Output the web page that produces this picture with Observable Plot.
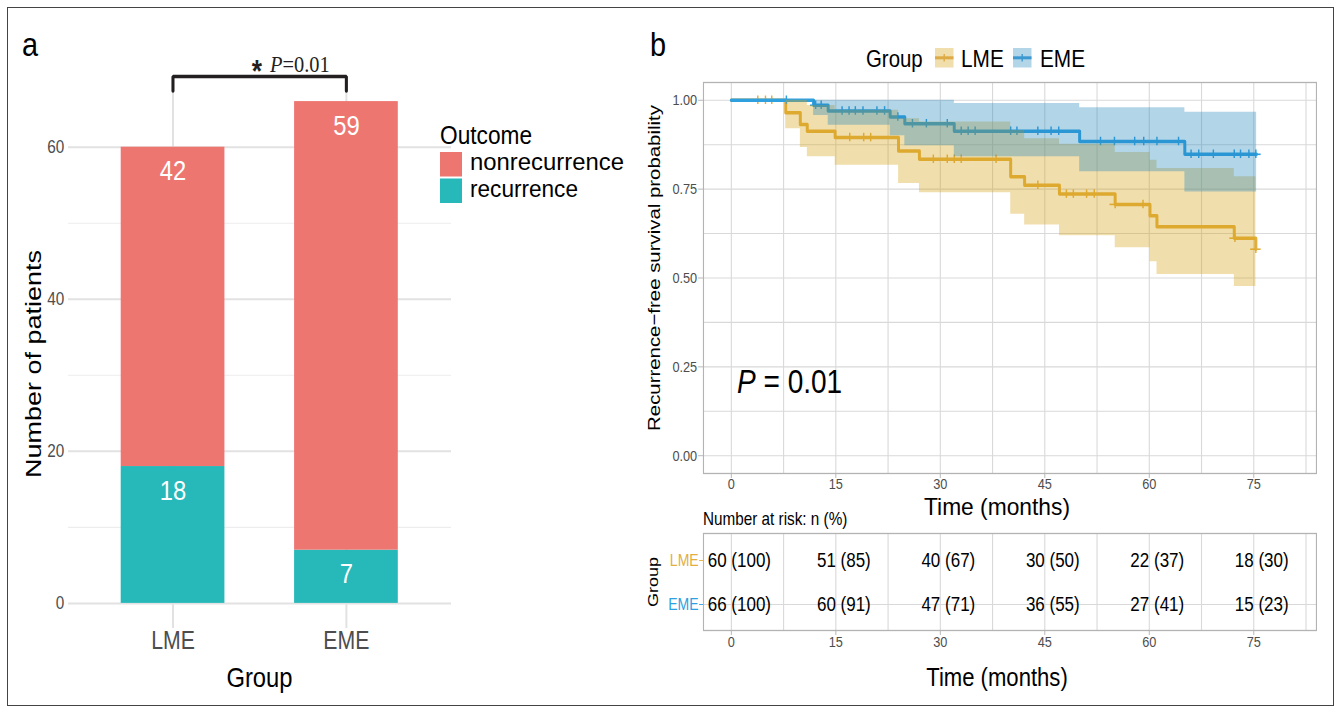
<!DOCTYPE html>
<html><head><meta charset="utf-8">
<script src="https://cdn.jsdelivr.net/npm/d3@7"></script>
<script src="https://cdn.jsdelivr.net/npm/@observablehq/plot@0.6"></script>
<style>
html,body{margin:0;padding:0;background:#fff;overflow:hidden;width:1340px;height:711px}
#wrap{position:absolute;left:0;top:0;height:711px;transform-origin:0 0;}
#wrap > *{position:absolute;}
#frame{position:absolute;left:7px;top:7px;width:1325px;height:697px;border:1px solid #444;}
</style></head><body>
<div id="frame"></div>
<div id="wrap"></div>
<script>
// ---------------- DATA ----------------
// Panel a: stacked bars
const groups = ["LME", "EME"];
const outcomes = ["nonrecurrence", "recurrence"];
const recurrenceN = [18, 7];
const nonrecurrenceN = [42, 59];
const barTicks = [0, 20, 40, 60];
const barMinorTicks = [10, 30, 50];
const bracketLevels = [67.4, 69.3];

// Panel b: Kaplan-Meier
const lmeTime  = [0, 7.8, 9.9, 10.9, 14.9, 24.0, 27.0, 40.1, 42.1, 47.1, 55.1, 60.1, 61.1, 72.2, 75.3];
const lmeSurv  = [1, 0.965, 0.932, 0.913, 0.895, 0.857, 0.834, 0.785, 0.761, 0.736, 0.707, 0.675, 0.644, 0.612, 0.581];
const lmeLower = [1, 0.920, 0.867, 0.841, 0.817, 0.766, 0.740, 0.679, 0.649, 0.619, 0.585, 0.546, 0.510, 0.476, 0.476];
const lmeUpper = [1, 1.000, 1.000, 0.985, 0.972, 0.948, 0.939, 0.915, 0.892, 0.876, 0.853, 0.831, 0.808, 0.785, 0.785];
const lmeCensor = [3.8, 4.9, 5.8, 17.0, 19.0, 20.0, 29.0, 31.0, 32.0, 33.0, 38.0, 44.0, 48.1, 49.1, 51.0, 52.1, 55.1, 59.1, 72.3, 75.3];

const emeTime  = [0, 11.8, 13.9, 22.8, 24.9, 32.0, 50.0, 65.1, 75.4];
const emeSurv  = [1, 0.986, 0.970, 0.953, 0.934, 0.913, 0.884, 0.848, 0.848];
const emeLower = [1, 0.957, 0.930, 0.900, 0.872, 0.841, 0.799, 0.742, 0.742];
const emeUpper = [1, 1.000, 1.000, 1.000, 1.000, 0.991, 0.979, 0.966, 0.966];
const emeCensor = [7.9, 12.1, 12.9, 15.9, 16.9, 17.8, 18.9, 20.9, 22.0, 23.9, 26.0, 28.0, 31.0, 33.0, 34.0, 35.0, 40.1, 41.0, 44.0, 45.9, 47.0, 53.0, 55.0, 57.9, 59.2, 61.1, 64.2, 66.0, 67.1, 69.2, 72.2, 73.1, 74.3, 75.3];

const kmXTicks = [0, 15, 30, 45, 60, 75];
const kmXGrid = [0, 7.5, 15, 22.5, 30, 37.5, 45, 52.5, 60, 67.5, 75, 82.5];
const kmYTicks = [0, 0.25, 0.5, 0.75, 1];
const kmYGrid = [0, 0.125, 0.25, 0.375, 0.5, 0.625, 0.75, 0.875, 1];

// Risk table
const riskTimes = [0, 15, 30, 45, 60, 75];
const lmeRiskN = [60, 51, 40, 30, 22, 18];
const lmeRiskPct = [100, 85, 67, 50, 37, 30];
const emeRiskN = [66, 60, 47, 36, 27, 15];
const emeRiskPct = [100, 91, 71, 55, 41, 23];

// ---------------- STYLE ----------------
const S = 0.85;               // horizontal compression of the original figure
const VW = 1340 / S;
const vx = a => a / S;
const SANS = "'Liberation Sans', Arial, Helvetica, sans-serif";
const SERIF = "'Liberation Serif', 'Times New Roman', serif";
const RED = "#EE7671", TEAL = "#27B8B9";
const GOLD = "#E3AE40", BLUE = "#2E9FDF";
const GOLD_BAND = "#D4A112", BLUE_BAND = "#2387BD";
const GRID = "#D9D9D9", BORDER = "#B3B3B3", TICKTXT = "#4D4D4D";
const CENSOR_DX = 0.75, CENSOR_DY = 0.012;   // half-size of the "+" censor marks

const wrap = document.getElementById("wrap");
wrap.style.width = VW + "px";
wrap.style.transform = `scaleX(${S})`;
const baseStyle = {background: "transparent", overflow: "visible", fontFamily: SANS};

function place(el, leftA, top) {
  el.style.position = "absolute";
  el.style.left = vx(leftA) + "px";
  el.style.top = top + "px";
  wrap.appendChild(el);
}

// ---------------- PANEL A ----------------
const barRows = [];
groups.forEach((g, i) => barRows.push({group: g, outcome: "recurrence", n: recurrenceN[i]}));
groups.forEach((g, i) => barRows.push({group: g, outcome: "nonrecurrence", n: nonrecurrenceN[i]}));
const bracket = [
  {g: groups[0], v: bracketLevels[0]}, {g: groups[0], v: bracketLevels[1]},
  {g: groups[1], v: bracketLevels[1]}, {g: groups[1], v: bracketLevels[0]}
];

const plotA = Plot.plot({
  width: vx(640), height: 711,
  marginLeft: vx(68), marginRight: vx(640 - 451), marginTop: 76, marginBottom: 711 - 628,
  style: baseStyle,
  x: {type: "band", domain: groups, paddingInner: 0.4, paddingOuter: 0.3},
  y: {domain: [-3.3, 69.3]},
  color: {domain: outcomes, range: [RED, TEAL]},
  marks: [
    Plot.gridY(barMinorTicks, {stroke: "#EDEDED", strokeOpacity: 1, strokeWidth: 1.1}),
    Plot.gridY(barTicks, {stroke: "#E2E2E2", strokeOpacity: 1, strokeWidth: 2}),
    Plot.gridX(groups, {stroke: "#E2E2E2", strokeOpacity: 1, strokeWidth: 2 / S}),
    Plot.barY(barRows, {x: "group", y: "n", fill: "outcome"}),
    Plot.text(barRows, Plot.stackY2({x: "group", y: "n", text: d => String(d.n), fill: "white", fontSize: 28, dy: 24})),
    Plot.line(bracket, {x: "g", y: "v", stroke: "#231F20", strokeWidth: 3.6, strokeLinejoin: "miter"}),
    Plot.axisY(barTicks, {tickSize: 0, tickPadding: 5, fontSize: 18, fill: TICKTXT, label: null}),
    Plot.axisX(groups, {tickSize: 0, tickPadding: 3, fontSize: 25, fill: TICKTXT, label: null})
  ]
});
place(plotA, 0, 0);

// ---------------- PANEL B: KM ----------------
const lmeCurve = lmeTime.map((t, i) => ({t, s: lmeSurv[i]}));
const emeCurve = emeTime.map((t, i) => ({t, s: emeSurv[i]}));
const lmeBand = lmeTime.map((t, i) => ({t, lo: lmeLower[i], hi: lmeUpper[i]}));
const emeBand = emeTime.map((t, i) => ({t, lo: emeLower[i], hi: emeUpper[i]}));
function survAt(times, surv, t) { let k = 0; times.forEach((tt, i) => { if (tt <= t) k = i; }); return surv[k]; }
const lmeMarks = lmeCensor.map(t => ({t, s: survAt(lmeTime, lmeSurv, t)}));
const emeMarks = emeCensor.map(t => ({t, s: survAt(emeTime, emeSurv, t)}));
function censorMarks(data, color) {
  return [
    Plot.ruleY(data, {y: "s", x1: d => d.t - CENSOR_DX, x2: d => d.t + CENSOR_DX, stroke: color, strokeWidth: 1.6}),
    Plot.ruleX(data, {x: "t", y1: d => d.s - CENSOR_DY, y2: d => d.s + CENSOR_DY, stroke: color, strokeWidth: 1.7})
  ];
}

const plotB = Plot.plot({
  width: vx(700), height: 460,
  marginLeft: vx(63), marginRight: vx(24), marginTop: 12, marginBottom: 57,
  style: baseStyle,
  x: {domain: [-4, 84]},
  y: {domain: [-0.05, 1.05]},
  marks: [
    Plot.gridX(kmXGrid, {stroke: GRID, strokeOpacity: 1, strokeWidth: 1.1 / S}),
    Plot.gridY(kmYGrid, {stroke: GRID, strokeOpacity: 1, strokeWidth: 1.1}),
    Plot.line(lmeCurve, {x: "t", y: "s", curve: "step-after", stroke: GOLD, strokeWidth: 3.5}),
    censorMarks(lmeMarks, GOLD),
    Plot.line(emeCurve, {x: "t", y: "s", curve: "step-after", stroke: BLUE, strokeWidth: 3.5}),
    censorMarks(emeMarks, BLUE),
    Plot.areaY(lmeBand, {x: "t", y1: "lo", y2: "hi", curve: "step-after", fill: GOLD_BAND, fillOpacity: 0.35}),
    Plot.areaY(emeBand, {x: "t", y1: "lo", y2: "hi", curve: "step-after", fill: BLUE_BAND, fillOpacity: 0.35}),
    Plot.frame({stroke: BORDER, strokeWidth: 1.3}),
    Plot.axisY(kmYTicks, {tickFormat: d3.format(".2f"), tickSize: vx(5), tickPadding: 1.5, fontSize: 15, fill: TICKTXT, stroke: BORDER, label: null}),
    Plot.axisX(kmXTicks, {tickSize: 5, tickPadding: 0, fontSize: 15, fill: TICKTXT, stroke: BORDER, label: null})
  ]
});
place(plotB, 640, 70);

// ---------------- RISK TABLE ----------------
const riskRows = [];
riskTimes.forEach((t, i) => riskRows.push({t, group: "LME", label: `${lmeRiskN[i]} (${lmeRiskPct[i]})`}));
riskTimes.forEach((t, i) => riskRows.push({t, group: "EME", label: `${emeRiskN[i]} (${emeRiskPct[i]})`}));

const plotT = Plot.plot({
  width: vx(700), height: 181,
  marginLeft: vx(63), marginRight: vx(24), marginTop: 3, marginBottom: 81,
  style: baseStyle,
  x: {domain: [-4, 84]},
  y: {type: "point", domain: groups, padding: 0.6},
  marks: [
    Plot.gridX(kmXGrid, {stroke: GRID, strokeOpacity: 1, strokeWidth: 1.1 / S}),
    Plot.gridY(["EME"], {stroke: GRID, strokeOpacity: 1, strokeWidth: 1.1}),
    Plot.frame({stroke: BORDER, strokeWidth: 1.3}),
    Plot.text(riskRows, {x: "t", y: "group", text: "label", fontSize: 20, fill: "black", dx: vx(8)}),
    Plot.axisX(kmXTicks, {tickSize: 5, tickPadding: 1, fontSize: 15, fill: TICKTXT, stroke: BORDER, label: null}),
    Plot.axisY(["LME"], {tickSize: vx(4), tickPadding: 1, fontSize: 16.5, fill: GOLD, stroke: GOLD, label: null}),
    Plot.axisY(["EME"], {tickSize: vx(4), tickPadding: 1, fontSize: 16.5, fill: BLUE, stroke: BLUE, label: null})
  ]
});
place(plotT, 640, 530);

// ---------------- TEXT / LEGEND OVERLAY ----------------
const ov = d3.create("svg").attr("width", VW).attr("height", 711)
  .style("position", "absolute").style("left", "0px").style("top", "0px").style("overflow", "visible");
function T(str, xa, yb, size, o = {}) {
  const t = ov.append("text").attr("x", vx(xa)).attr("y", yb).attr("font-size", size)
    .attr("text-anchor", o.anchor || "start").attr("fill", o.fill || "#000")
    .attr("font-family", o.family || SANS);
  if (o.weight) t.attr("font-weight", o.weight);
  if (o.length) t.attr("textLength", vx(o.length)).attr("lengthAdjust", "spacingAndGlyphs");
  if (o.rotate) t.attr("transform", `rotate(-90, ${vx(xa)}, ${yb})`);
  if (str !== null) t.text(str);
  return t;
}
function R(xa, ya, wa, h, fill) {
  return ov.append("rect").attr("x", vx(xa)).attr("y", ya).attr("width", vx(wa)).attr("height", h).attr("fill", fill);
}

// panel a
T("a", 22, 56, 34);
T("*", 257, 82, 31, {anchor: "middle", weight: "bold", fill: "#231F20"});
const pa = T(null, 270, 72, 24, {family: SERIF, fill: "#231F20"});
pa.append("tspan").attr("font-style", "italic").text("P");
pa.append("tspan").text("=0.01");
T("Outcome", 440, 144, 25.5, {length: 92});
R(440, 152, 22, 24.5, RED);
R(440, 178.5, 22, 24.5, TEAL);
T("nonrecurrence", 470, 170.5, 23.6, {length: 154});
T("recurrence", 470, 197, 23.6, {length: 108});
T("Number of patients", 33 + 0.358 * 27 * S, 364, 27, {anchor: "middle", rotate: true});
T("Group", 259.5, 687, 28, {anchor: "middle"});

// panel b
T("b", 650, 56, 34);
T("Group", 866, 66.6, 24);
R(935, 48, 18.5, 19.5, "#F0DEAC");
ov.append("line").attr("x1", vx(935)).attr("x2", vx(953.5)).attr("y1", 57.8).attr("y2", 57.8).attr("stroke", "#DDAA45").attr("stroke-width", 3);
ov.append("line").attr("x1", vx(944.2)).attr("x2", vx(944.2)).attr("y1", 54).attr("y2", 61.5).attr("stroke", "#DDAA45").attr("stroke-width", 1.6);
T("LME", 961, 66.6, 24.5);
R(1013, 48, 18.5, 19.5, "#B2D5E8");
ov.append("line").attr("x1", vx(1013)).attr("x2", vx(1031.5)).attr("y1", 57.8).attr("y2", 57.8).attr("stroke", "#3B98D0").attr("stroke-width", 3);
ov.append("line").attr("x1", vx(1022.2)).attr("x2", vx(1022.2)).attr("y1", 54).attr("y2", 61.5).attr("stroke", "#3B98D0").attr("stroke-width", 1.6);
T("EME", 1040, 66.6, 24.5);
T("Recurrence\u2212free survival probability", 660, 268, 20.4, {anchor: "middle", rotate: true});
const pb = T(null, 737, 392.8, 33);
pb.append("tspan").attr("font-style", "italic").text("P");
pb.append("tspan").text(" = 0.01");
T("Time (months)", 997, 515, 24.5, {anchor: "middle", length: 146});
T("Number at risk: n (%)", 703, 525.4, 18);
T("Group", 658, 582, 18, {anchor: "middle", rotate: true});
T("Time (months)", 997, 686, 26, {anchor: "middle"});

wrap.appendChild(ov.node());
</script></body></html>
